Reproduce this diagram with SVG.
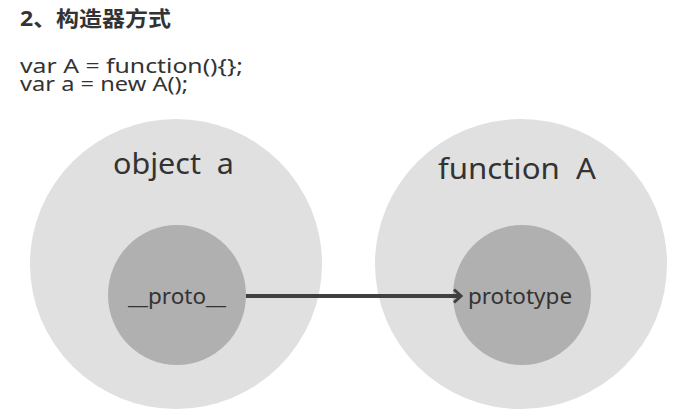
<svg xmlns="http://www.w3.org/2000/svg" width="695" height="416" viewBox="0 0 695 416">
<style>
text{font-family:"Noto Sans","Open Sans","Noto Sans CJK SC",sans-serif;fill:#333;white-space:pre}
.outer{fill:#e0e0e0}
.inner{fill:#b0b0b0}
.big{font-size:29px}
.mid{font-size:22.5px}
.edge{stroke:#404040;stroke-width:4;fill:none}
</style>
<defs>
<marker id="arr" markerWidth="12" markerHeight="16" refX="9" refY="8" orient="auto" markerUnits="userSpaceOnUse">
<path d="M2,1.5 L9,8 L2,14.5" fill="none" stroke="#404040" stroke-width="3"/>
</marker>
</defs>
<text x="20" y="26" font-size="21" font-weight="bold" textLength="151" lengthAdjust="spacingAndGlyphs">2、构造器方式</text>
<text x="20" y="73" font-size="19" textLength="223" lengthAdjust="spacingAndGlyphs">var A = function(){};</text>
<text x="20" y="91" font-size="19" textLength="168" lengthAdjust="spacingAndGlyphs">var a = new A();</text>
<g id="object-a">
<ellipse class="outer" cx="176" cy="264" rx="146" ry="145"/>
<text class="big" x="113" y="174" xml:space="preserve" textLength="121" lengthAdjust="spacingAndGlyphs">object  a</text>
</g>
<g id="function-A">
<ellipse class="outer" cx="521" cy="264" rx="146" ry="145"/>
<text class="big" x="438" y="179" xml:space="preserve" textLength="158" lengthAdjust="spacingAndGlyphs">function  A</text>
</g>
<g id="proto">
<ellipse class="inner" cx="177" cy="295" rx="69" ry="70"/>
<text class="mid" x="177" y="304" text-anchor="middle">__proto__</text>
</g>
<g id="prototype">
<ellipse class="inner" cx="522" cy="295" rx="69" ry="70"/>
<text class="mid" x="520" y="304" text-anchor="middle">prototype</text>
</g>
<g id="connectors">
<line class="edge" x1="246" y1="296" x2="461" y2="296" marker-end="url(#arr)"/>
</g>
</svg>
